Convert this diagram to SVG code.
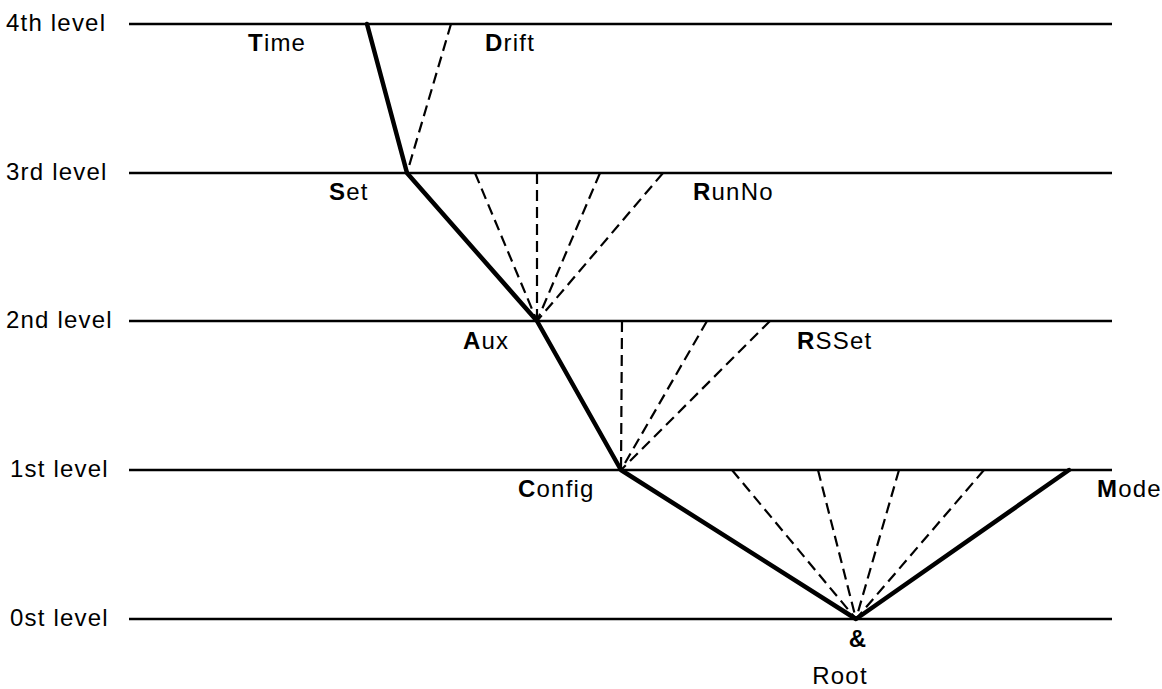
<svg xmlns="http://www.w3.org/2000/svg" width="1162" height="689" viewBox="0 0 1162 689">
<style>
text{font-family:"Liberation Sans",Arial,sans-serif;font-size:24px;fill:#000;letter-spacing:1.2px}
.b{font-weight:bold}
.lvl{stroke:#000;stroke-width:2.5;fill:none}
.thick{stroke:#000;stroke-width:4.5;fill:none;stroke-linecap:round;stroke-linejoin:round}
.dash{stroke:#000;stroke-width:2.2;fill:none;stroke-dasharray:11 6}
</style>
<rect width="1162" height="689" fill="#fff"/>
<g id="levels">
<line class="lvl" x1="129" y1="24" x2="1112" y2="24"/>
<line class="lvl" x1="129" y1="173" x2="1112" y2="173"/>
<line class="lvl" x1="129" y1="321" x2="1112" y2="321"/>
<line class="lvl" x1="129" y1="470" x2="1112" y2="470"/>
<line class="lvl" x1="129" y1="619" x2="1112" y2="619"/>
<text x="6" y="31">4th level</text>
<text x="6" y="180">3rd level</text>
<text x="6" y="328">2nd level</text>
<text x="10" y="477">1st level</text>
<text x="10" y="626">0st level</text>
</g>
<g id="connectors">
<path class="thick" d="M367 24 L407 173 L537 321 L621 470 L856 619 L1069 470"/>
<line class="dash" x1="451" y1="24" x2="407" y2="173"/>
<line class="dash" x1="475" y1="173" x2="537" y2="321"/>
<line class="dash" x1="537" y1="173" x2="537" y2="321"/>
<line class="dash" x1="600" y1="173" x2="537" y2="321"/>
<line class="dash" x1="663" y1="173" x2="537" y2="321"/>
<line class="dash" x1="622" y1="321" x2="621" y2="470"/>
<line class="dash" x1="707" y1="321" x2="621" y2="470"/>
<line class="dash" x1="770" y1="321" x2="621" y2="470"/>
<line class="dash" x1="732" y1="470" x2="856" y2="619"/>
<line class="dash" x1="818" y1="470" x2="856" y2="619"/>
<line class="dash" x1="899" y1="470" x2="856" y2="619"/>
<line class="dash" x1="984" y1="470" x2="856" y2="619"/>
</g>
<g id="node-time"><text x="248" y="51"><tspan class="b">T</tspan>ime</text></g>
<g id="node-drift"><text x="485" y="51"><tspan class="b">D</tspan>rift</text></g>
<g id="node-set"><text x="329" y="200"><tspan class="b">S</tspan>et</text></g>
<g id="node-runno"><text x="693" y="200"><tspan class="b">R</tspan>unNo</text></g>
<g id="node-aux"><text x="463" y="349"><tspan class="b">A</tspan>ux</text></g>
<g id="node-rsset"><text x="797" y="349"><tspan class="b">R</tspan>SSet</text></g>
<g id="node-config"><text x="518" y="497"><tspan class="b">C</tspan>onfig</text></g>
<g id="node-mode"><text x="1097" y="497"><tspan class="b">M</tspan>ode</text></g>
<g id="node-root">
<text class="b" x="858" y="647" text-anchor="middle">&amp;</text>
<text x="840" y="684" text-anchor="middle">Root</text>
</g>
</svg>
